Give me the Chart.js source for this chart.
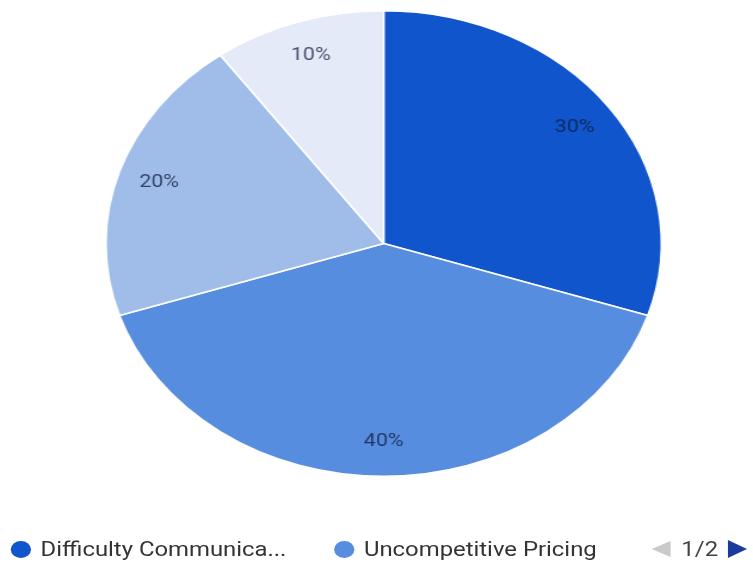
<!DOCTYPE html>
<html lang="en">
	<head>
		<meta charset="UTF-8" />
		<title>Reasons</title>
		<script src="https://cdn.jsdelivr.net/npm/chart.js@4/dist/chart.umd.min.js"></script>
		<style>
			html, body {
				margin: 0;
				padding: 0;
				background: #ffffff;
				overflow: hidden;
			}
			/* whole chart is drawn narrow and widened, so the pie comes out oval */
			#wrap {
				position: relative;
				width: 631px;
				height: 565px;
				transform: scaleX(1.1933);
				transform-origin: 0 0;
				font-family: Roboto, 'Noto Sans', sans-serif;
			}
			.pie-box {
				position: absolute;
				left: 0;
				top: 0;
				width: 631px;
				height: 487px;
			}
			.legend-item {
				position: absolute;
				top: 538px;
				height: 22px;
				display: flex;
				align-items: center;
				font-size: 20px;
				color: #333;
				white-space: nowrap;
			}
			.legend-dot {
				width: 17px;
				height: 17px;
				border-radius: 50%;
				margin-right: 8px;
			}
			.pager {
				position: absolute;
				left: 546px;
				top: 538px;
				height: 22px;
				display: flex;
				align-items: center;
				font-size: 20px;
				color: #444;
			}
			.tri-left {
				width: 0;
				height: 0;
				border-top: 8px solid transparent;
				border-bottom: 8px solid transparent;
				border-right: 16px solid #cacaca;
				margin-right: 9px;
			}
			.tri-right {
				width: 0;
				height: 0;
				border-top: 9px solid transparent;
				border-bottom: 9px solid transparent;
				border-left: 16px solid #1b3a9c;
				margin-left: 8px;
			}
		</style>
	</head>
	<body>
		<div id="wrap">
			<div class="pie-box"><canvas id="reasons-chart"></canvas></div>
			<div id="legend"></div>
			<div class="pager">
				<div class="tri-left"></div>
				<span>1/2</span>
				<div class="tri-right"></div>
			</div>
		</div>

		<script>
			// Slice data
			const categories = ['Difficulty Communicating', 'Uncompetitive Pricing', 'Slow Delivery', 'Other']
			const shares = [30, 40, 20, 10]
			const sliceColors = ['#1155cc', '#578ddf', '#a0bdea', '#e4eaf8']

			// legend shows two entries per page
			const legendPageSize = 2
			const legendLeft = [9, 280]

			// Percent labels inside each slice
			const sliceLabels = {
				id: 'sliceLabels',
				afterDatasetsDraw(chart) {
					const ctx = chart.ctx
					const meta = chart.getDatasetMeta(0)
					const values = chart.data.datasets[0].data
					const total = values.reduce((a, b) => a + b, 0)
					ctx.save()
					ctx.font = '18px Roboto, sans-serif'
					ctx.fillStyle = 'rgba(15, 25, 60, 0.75)'
					ctx.textAlign = 'center'
					ctx.textBaseline = 'middle'
					meta.data.forEach((arc, i) => {
						const p = arc.getProps(['x', 'y', 'startAngle', 'endAngle', 'outerRadius'], true)
						const mid = (p.startAngle + p.endAngle) / 2
						const r = p.outerRadius * 0.85
						const pct = Math.round((values[i] / total) * 100)
						ctx.fillText(pct + '%', p.x + Math.cos(mid) * r, p.y + Math.sin(mid) * r)
					})
					ctx.restore()
				},
			}

			// long names get cut short in the legend
			function truncate(text, max) {
				return text.length > max + 2 ? text.substring(0, max) + '...' : text
			}

			function buildLegend() {
				const legend = document.getElementById('legend')
				let html = ''
				categories.slice(0, legendPageSize).forEach((name, i) => {
					html += `<div class="legend-item" style="left:${legendLeft[i]}px">
						<span class="legend-dot" style="background:${sliceColors[i]}"></span>
						<span>${truncate(name, 20)}</span>
					</div>`
				})
				legend.innerHTML = html
			}

			const ctx = document.getElementById('reasons-chart').getContext('2d')
			new Chart(ctx, {
				type: 'pie',
				data: {
					labels: categories,
					datasets: [
						{
							data: shares,
							backgroundColor: sliceColors,
							borderColor: '#ffffff',
							borderWidth: 1.5,
						},
					],
				},
				options: {
					responsive: true,
					maintainAspectRatio: false,
					animation: false,
					layout: {
						padding: { top: 10, bottom: 10, left: 12, right: 0 },
					},
					plugins: {
						legend: { display: false },
						tooltip: { enabled: false },
					},
				},
				plugins: [sliceLabels],
			})

			buildLegend()
		</script>
	</body>
</html>
